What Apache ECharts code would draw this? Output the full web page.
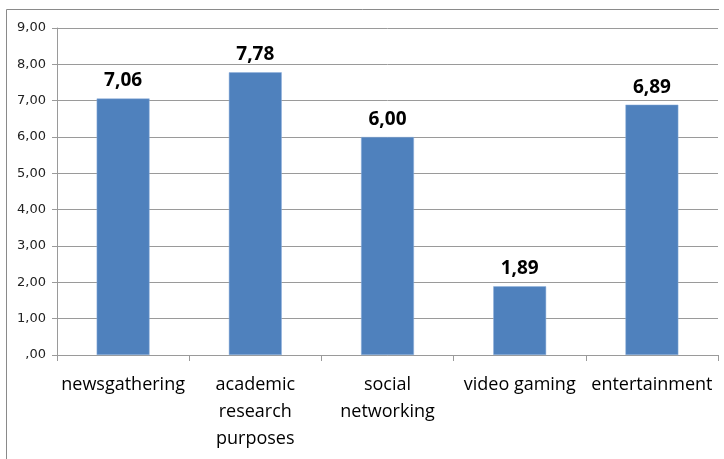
<!DOCTYPE html>
<html>
<head>
<meta charset="utf-8">
<script src="https://cdn.jsdelivr.net/npm/echarts@6/dist/echarts.min.js"></script>
<style>
  html, body { margin: 0; padding: 0; background: #fff; }
  #chart { width: 724px; height: 459px; }
</style>
</head>
<body>
<div id="chart"></div>
<script>
// Purposes of internet use, mean scores
const categories = ['newsgathering', 'academic\nresearch\npurposes', 'social\nnetworking', 'video gaming', 'entertainment'];
const values = [7.06, 7.78, 6.00, 1.89, 6.89];
const yTicks = { min: 0, max: 9, interval: 1 };

const fmt = v => {
  const s = Number(v).toFixed(2).replace('.', ',');
  return s.startsWith('0,') ? s.slice(1) : s;
};

const chart = echarts.init(document.getElementById('chart'), null, { renderer: 'canvas' });
chart.setOption({
  backgroundColor: '#ffffff',
  animation: false,
  grid: { left: 57, right: 6, top: 28, bottom: 104, containLabel: false },
  xAxis: {
    type: 'category',
    data: categories,
    axisLine: { show: true, lineStyle: { color: '#9a9a9a', width: 1 } },
    axisTick: { show: true, length: 6, alignWithLabel: false, lineStyle: { color: '#9a9a9a' } },
    axisLabel: {
      interval: 0,
      margin: 16,
      color: '#000',
      fontFamily: 'Open Sans',
      fontSize: 18,
      lineHeight: 27
    }
  },
  yAxis: {
    type: 'value',
    min: yTicks.min,
    max: yTicks.max,
    interval: yTicks.interval,
    axisLine: { show: true, lineStyle: { color: '#9a9a9a' } },
    axisTick: { show: true, length: 5, lineStyle: { color: '#9a9a9a' } },
    splitLine: { show: true, lineStyle: { color: '#9a9a9a', width: 1 } },
    axisLabel: {
      margin: 11,
      color: '#222',
      fontFamily: 'DejaVu Sans',
      fontSize: 13,
      formatter: fmt
    }
  },
  series: [{
    type: 'bar',
    data: values,
    barCategoryGap: '60%',
    itemStyle: { color: '#4F81BD', borderColor: '#8fb0dc', borderWidth: 0.5 },
    label: {
      show: true,
      position: 'top',
      distance: 8,
      color: '#000',
      fontFamily: 'Open Sans',
      fontWeight: 'bold',
      fontSize: 19,
      formatter: p => fmt(p.value)
    }
  }],
  graphic: [{
    type: 'polyline',
    shape: { points: [[6.5, 470], [6.5, 9.5], [719, 9.5]] },
    style: { stroke: '#8a8a8a', lineWidth: 1, fill: null },
    silent: true
  }]
});
</script>
</body>
</html>
